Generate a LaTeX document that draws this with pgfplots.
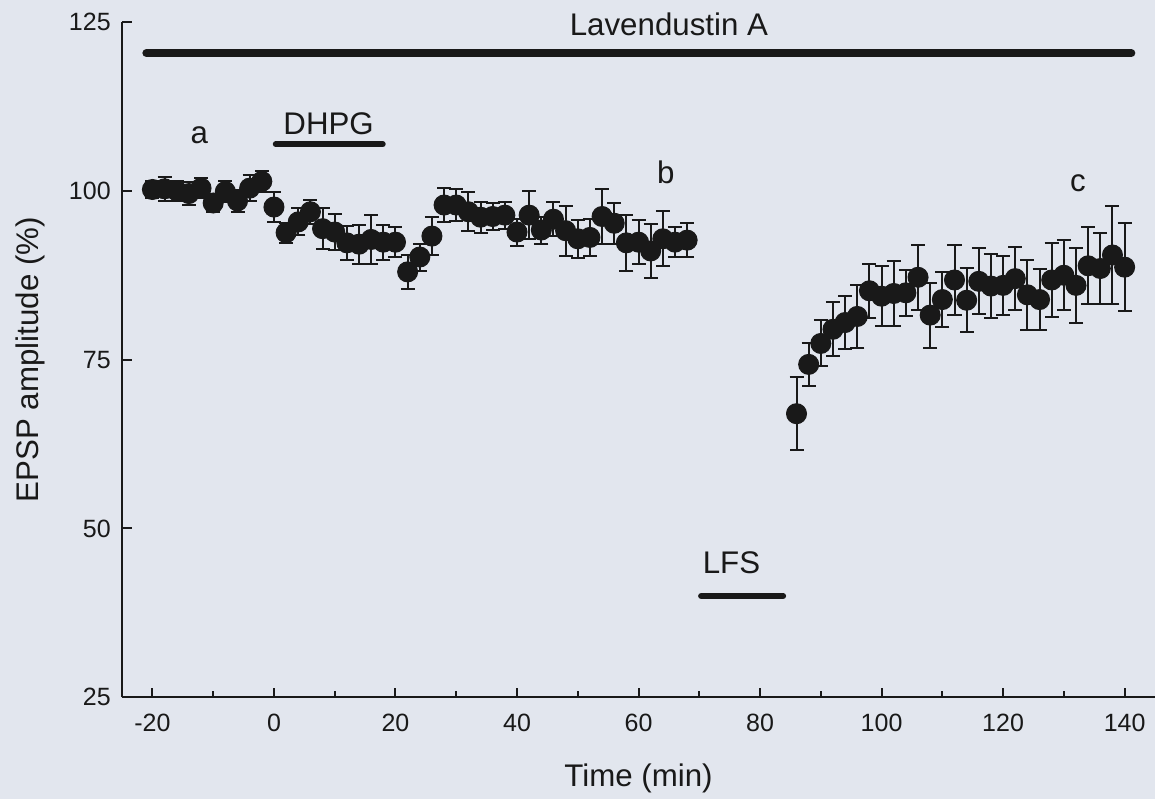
\documentclass[border=0pt]{standalone}
\usepackage{fontspec}
\setmainfont{Liberation Sans}
\usepackage{pgfplots}
\pgfplotsset{compat=1.18}
\usepackage{pgfplotstable}
\usetikzlibrary{backgrounds}

\definecolor{bgc}{RGB}{226,230,238}
\definecolor{ink}{RGB}{25,25,25}

% t (min), EPSP amplitude (%), SEM
\pgfplotstableread{
t v e
-20 100.2 1.2
-18 100.3 1.8
-16 100.0 1.5
-14 99.6 1.7
-12 100.4 1.5
-10 98.2 1.4
-8 99.9 1.6
-6 98.5 1.6
-4 100.4 1.9
-2 101.4 1.6
0 97.6 2.2
2 93.8 1.5
4 95.4 2.0
6 96.9 1.8
8 94.4 3.0
10 93.9 2.7
12 92.3 2.5
14 92.1 2.9
16 92.8 3.6
18 92.4 2.6
20 92.4 2.2
22 88.0 2.5
24 90.2 2.0
26 93.3 2.8
28 97.9 2.5
30 97.9 2.3
32 96.9 2.9
34 96.1 2.3
36 96.2 2.0
38 96.4 2.0
40 93.9 2.0
42 96.4 3.6
44 94.2 2.0
46 95.8 2.5
48 94.1 3.7
50 92.9 2.8
52 93.1 2.7
54 96.2 4.1
56 95.2 3.0
58 92.3 4.1
60 92.4 3.3
62 91.1 4.0
64 92.9 4.1
66 92.4 2.2
68 92.7 2.5
}\pre

\pgfplotstableread{
t v e
86 67.0 5.4
88 74.3 3.2
90 77.4 3.4
92 79.5 4.0
94 80.5 3.9
96 81.4 4.6
98 85.2 4.0
100 84.4 4.4
102 84.8 4.8
104 84.9 3.4
106 87.2 4.8
108 81.6 4.8
110 83.9 4.1
112 86.8 5.2
114 83.8 4.7
116 86.6 4.9
118 85.9 4.8
120 86.0 4.4
122 87.0 4.7
124 84.6 5.2
126 83.9 4.5
128 86.8 5.5
130 87.5 5.2
132 86.0 5.5
134 88.9 5.7
136 88.5 5.2
138 90.5 7.2
140 88.7 6.5
}\post

\begin{document}
\begin{tikzpicture}[font=\fontsize{12.5}{15}\selectfont]
\begin{axis}[
  scale only axis,
  width=413pt, height=270pt,
  xmin=-25, xmax=145,
  ymin=25, ymax=125,
  clip=false,
  axis x line*=bottom,
  axis y line*=left,
  axis line style={line width=0.8pt, color=ink},
  tick align=inside,
  tick style={line width=0.8pt, color=ink},
  major tick length=3.8pt,
  minor tick length=2.4pt,
  xtick={-20,0,...,140},
  minor xtick={-10,10,...,130},
  ytick={25,50,...,125},
  /pgf/number format/assume math mode=true,
  ticklabel style={font=\fontsize{10}{12}\selectfont, color=ink},
  xticklabel style={yshift=-3pt},
  yticklabel style={xshift=-1pt},
  xlabel={Time (min)},
  ylabel={EPSP amplitude (\%)},
  every axis x label/.style={at={(axis description cs:0.5,-0.12)}, anchor=center, color=ink},
  every axis y label/.style={at={(axis description cs:-0.089,0.5)}, anchor=center, rotate=90, color=ink},
]
% drug / stimulation bars
\addplot[ink, line width=3.2pt, line cap=round] coordinates {(-21.0,120.4) (141.1,120.4)};
\addplot[ink, line width=2.4pt, line cap=round] coordinates {(0.3,106.9) (17.9,106.9)};
\addplot[ink, line width=2.4pt, line cap=round] coordinates {(70.3,40.0) (83.8,40.0)};

\addplot[only marks, mark=*, mark size=4pt, color=ink, mark options={fill=ink},
  error bars/.cd, y dir=both, y explicit,
  error bar style={line width=0.8pt, color=ink},
  error mark options={rotate=90, mark size=2.8pt, line width=0.8pt, color=ink}]
  table[x=t, y=v, y error=e] {\pre};
\addplot[only marks, mark=*, mark size=4pt, color=ink, mark options={fill=ink},
  error bars/.cd, y dir=both, y explicit,
  error bar style={line width=0.8pt, color=ink},
  error mark options={rotate=90, mark size=2.8pt, line width=0.8pt, color=ink}]
  table[x=t, y=v, y error=e] {\post};

\node[ink] at (axis cs:65.0,124.6) {Lavendustin A};
\node[ink] at (axis cs:-12.3,108.3) {a};
\node[ink] at (axis cs:9.0,109.9) {DHPG};
\node[ink] at (axis cs:64.5,102.8) {b};
\node[ink] at (axis cs:132.3,101.1) {c};
\node[ink] at (axis cs:75.3,45.0) {LFS};
\end{axis}
\pgfresetboundingbox
\path[use as bounding box] ([xshift=-48.8pt,yshift=-40.8pt]current axis.south west) rectangle ([yshift=8.8pt]current axis.north east);
\begin{scope}[on background layer]
\fill[bgc] ([xshift=-48.8pt,yshift=-40.8pt]current axis.south west) rectangle ([yshift=8.8pt]current axis.north east);
\end{scope}
\end{tikzpicture}
\end{document}
